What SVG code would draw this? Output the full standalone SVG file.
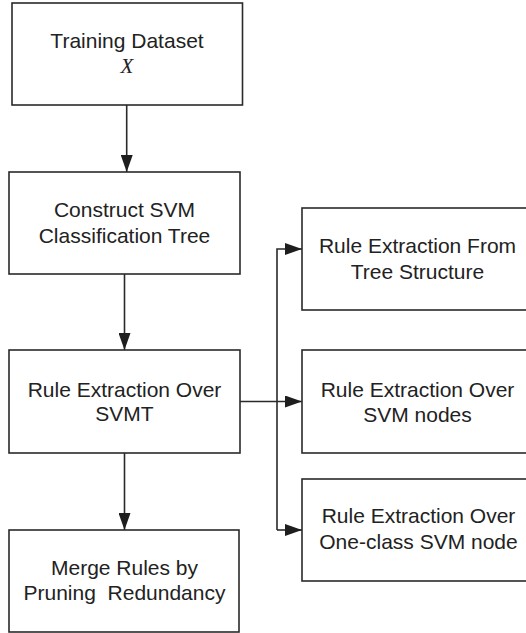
<svg xmlns="http://www.w3.org/2000/svg" width="526" height="633" viewBox="0 0 526 633">
<style>
.box{fill:#fff;stroke:#2a2a2a;stroke-width:1.6}
.t{font-family:"Liberation Sans",Arial,sans-serif;font-size:21px;fill:#222;text-anchor:middle;white-space:pre}
.x{font-family:"Liberation Serif","Times New Roman",serif;font-size:21px;font-style:italic;fill:#222;text-anchor:middle}
.c{fill:none;stroke:#2a2a2a;stroke-width:1.6}
</style>
<defs>
<marker id="ah" markerUnits="userSpaceOnUse" markerWidth="18" markerHeight="12" refX="17" refY="6" orient="auto">
<path d="M0,0 L17,6 L0,12 z" fill="#1e1e1e"/>
</marker>
</defs>
<rect width="526" height="633" fill="#fff"/>
<g id="connectors">
<line class="c" x1="126.7" y1="105" x2="126.7" y2="172" marker-end="url(#ah)"/>
<line class="c" x1="124.5" y1="274" x2="124.5" y2="350" marker-end="url(#ah)"/>
<line class="c" x1="124.5" y1="453" x2="124.5" y2="530" marker-end="url(#ah)"/>
<line class="c" x1="240" y1="401.5" x2="302" y2="401.5" marker-end="url(#ah)"/>
<path class="c" d="M277,530 L277,249 L302,249" marker-end="url(#ah)"/>
<path class="c" d="M277,530 L302,530" marker-end="url(#ah)"/>
</g>
<g id="n1">
<rect class="box" x="12" y="3" width="230.5" height="102"/>
<text class="t" x="127" y="48">Training Dataset</text>
<text class="x" x="127" y="73">X</text>
</g>
<g id="n2">
<rect class="box" x="9" y="172" width="231" height="102"/>
<text class="t" x="124.5" y="217">Construct SVM</text>
<text class="t" x="124.5" y="243">Classification Tree</text>
</g>
<g id="n3">
<rect class="box" x="9" y="350" width="231" height="103"/>
<text class="t" x="124.5" y="397">Rule Extraction Over</text>
<text class="t" x="124.5" y="421">SVMT</text>
</g>
<g id="n4">
<rect class="box" x="9" y="530" width="230" height="102"/>
<text class="t" x="124.5" y="575">Merge Rules by</text>
<text class="t" x="124.5" y="600" xml:space="preserve">Pruning  Redundancy</text>
</g>
<g id="r1">
<rect class="box" x="302" y="208" width="240" height="102"/>
<text class="t" x="417.5" y="253">Rule Extraction From</text>
<text class="t" x="417.5" y="279">Tree Structure</text>
</g>
<g id="r2">
<rect class="box" x="302" y="350" width="240" height="103"/>
<text class="t" x="417.5" y="397">Rule Extraction Over</text>
<text class="t" x="417.5" y="422">SVM nodes</text>
</g>
<g id="r3">
<rect class="box" x="302" y="479" width="240" height="102"/>
<text class="t" x="418.5" y="523">Rule Extraction Over</text>
<text class="t" x="418.5" y="549">One-class SVM node</text>
</g>
</svg>
